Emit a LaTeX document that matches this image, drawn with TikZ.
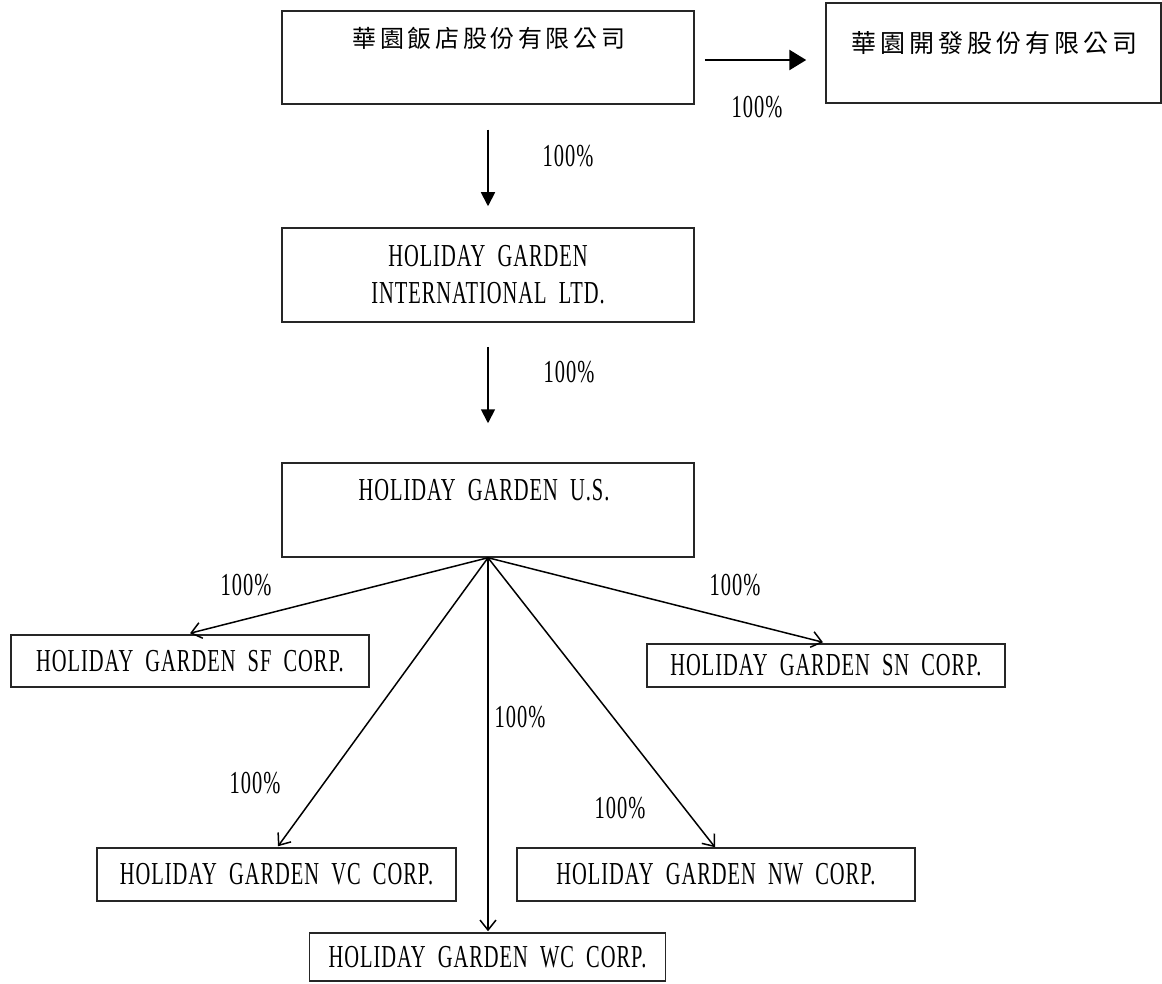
\documentclass[tikz,border=0pt]{standalone}
\usepackage{fontspec}
\setmainfont{Liberation Serif}[FakeStretch=0.64,WordSpace=2,LetterSpace=3]
\newfontfamily\cjkA{Noto Sans CJK TC}[LetterSpace=15]
\newfontfamily\cjkB{Noto Sans CJK TC}[LetterSpace=16]
\usetikzlibrary{arrows.meta}
\begin{document}
\begin{tikzpicture}[x=1pt,y=-1pt,
  box/.style={draw=black!85,line width=1.5pt,inner sep=0pt,align=center,
    font=\fontsize{32}{37}\selectfont},
  txt/.style={inner sep=0pt,align=center,font=\fontsize{32}{37}\selectfont},
  pct/.style={inner sep=0pt,font=\fontsize{32}{37}\selectfont},
  fan/.style={line width=1.5pt,-{Straight Barb[length=10pt,width=16pt,line width=1.5pt]}},
  down/.style={line width=1.8pt,-{Triangle[length=14pt,width=14pt]}},
  side/.style={line width=2.7pt,-{Triangle[length=17pt,width=20pt]}}]
\useasboundingbox (0,0) rectangle (1162,984);

% boxes
\node[box,minimum width=412pt,minimum height=93pt] (A) at (488,57.5) {};
\node[box,minimum width=335pt,minimum height=100pt] (B) at (993.5,53) {};
\node[box,minimum width=412pt,minimum height=94pt] (C) at (488,275)
  {HOLIDAY GARDEN\\INTERNATIONAL LTD.};
\node[box,minimum width=412pt,minimum height=94pt] (D) at (488,510) {};
\node[box,minimum width=358pt,minimum height=52pt] (SF) at (190,661) {HOLIDAY GARDEN SF CORP.};
\node[box,minimum width=358pt,minimum height=43pt] (SN) at (826,665.5) {HOLIDAY GARDEN SN CORP.};
\node[box,minimum width=359pt,minimum height=53pt] (VC) at (276.5,874.5) {HOLIDAY GARDEN VC CORP.};
\node[box,minimum width=398pt,minimum height=53pt] (NW) at (716,874.5) {HOLIDAY GARDEN NW CORP.};
\node[box,minimum width=356pt,minimum height=48pt] (WC) at (487.5,957) {HOLIDAY GARDEN WC CORP.};

% texts of top-aligned boxes
\node[inner sep=0pt,font=\cjkA\fontsize{24}{28}\selectfont] (At) at (489,38.5) {華園飯店股份有限公司};
\node[inner sep=0pt,font=\cjkB\fontsize{25}{29}\selectfont] (Bt) at (994,43.5) {華園開發股份有限公司};
\node[txt] (Dt) at (484,490.5) {HOLIDAY GARDEN U.S.};

% connectors
\draw[side] ([shift={(10,2.5)}]A.east) -- ([shift={(-19,7)}]B.west);
\draw[down] ([shift={(0,25)}]A.south) -- ([shift={(0,-21)}]C.north);
\draw[down] ([shift={(0,24)}]C.south) -- ([shift={(0,-39)}]D.north);
\draw[fan] (D.south) -- ([shift={(0,-1)}]SF.north);
\draw[fan] (D.south) -- ([shift={(-3,-1)}]SN.north);
\draw[fan] (D.south) -- ([shift={(0.5,-1)}]WC.north);
\draw[fan] (D.south) -- ([shift={(1.5,-1)}]VC.north);
\draw[fan] (D.south) -- ([shift={(-1,0)}]NW.north);

% labels
\node[pct] (pAB) at (757,107) {100\%};
\node[pct] (pAC) at (568,156) {100\%};
\node[pct] (pCD) at (569,372) {100\%};
\node[pct] (pSF) at (246,585) {100\%};
\node[pct] (pSN) at (735,585) {100\%};
\node[pct] (pWC) at (520,717) {100\%};
\node[pct] (pVC) at (255,783) {100\%};
\node[pct] (pNW) at (620,808) {100\%};
\end{tikzpicture}
\end{document}
